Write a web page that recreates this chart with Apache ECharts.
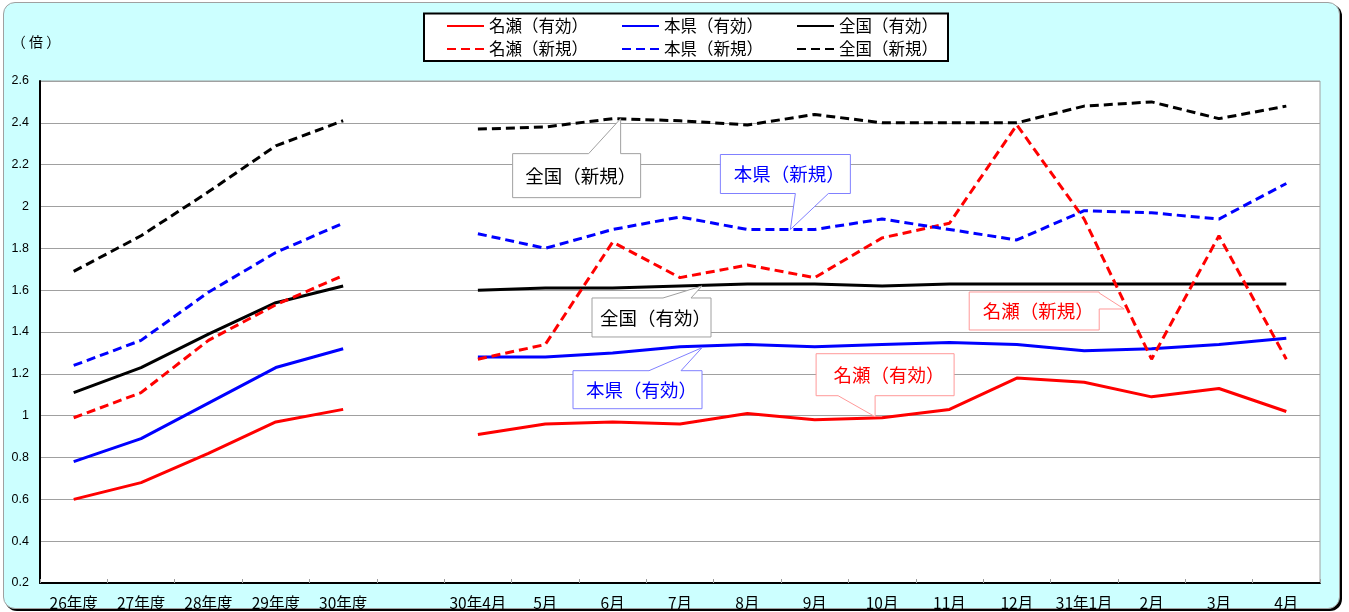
<!DOCTYPE html>
<html>
<head>
<meta charset="utf-8">
<script src="https://cdn.jsdelivr.net/npm/echarts@6/dist/echarts.min.js"></script>
<style>
html,body{margin:0;padding:0;width:1349px;height:612px;overflow:hidden;background:#fff;}
#frame{position:absolute;left:3px;top:2px;width:1335px;height:605px;background:#CCFFFF;border:1px solid #A0A0A0;border-radius:12px;box-shadow:2px 2px 0 #000;}
#chart{position:absolute;left:0;top:0;width:1349px;height:612px;}
</style>
</head>
<body>
<div id="frame"></div>
<div id="chart"></div>
<script>
// ---- data ----
var categories = ['26年度','27年度','28年度','29年度','30年度','','30年4月','5月','6月','7月','8月','9月','10月','11月','12月','31年1月','2月','3月','4月'];
var yTicks = [0.2,0.4,0.6,0.8,1,1.2,1.4,1.6,1.8,2,2.2,2.4,2.6];
var seriesNames = ['名瀬（有効）','本県（有効）','全国（有効）','名瀬（新規）','本県（新規）','全国（新規）'];
var nazeYuko      = [0.60,0.68,0.82,0.97,1.03,null,0.91,0.96,0.97,0.96,1.01,0.98,0.99,1.03,1.18,1.16,1.09,1.13,1.02];
var honkenYuko    = [0.78,0.89,1.06,1.23,1.32,null,1.28,1.28,1.30,1.33,1.34,1.33,1.34,1.35,1.34,1.31,1.32,1.34,1.37];
var zenkokuYuko   = [1.11,1.23,1.39,1.54,1.62,null,1.60,1.61,1.61,1.62,1.63,1.63,1.62,1.63,1.63,1.63,1.63,1.63,1.63];
var nazeShinki    = [0.99,1.11,1.36,1.53,1.67,null,1.27,1.34,1.83,1.66,1.72,1.66,1.85,1.92,2.39,1.94,1.27,1.86,1.27];
var honkenShinki  = [1.24,1.36,1.59,1.78,1.92,null,1.87,1.80,1.89,1.95,1.89,1.89,1.94,1.89,1.84,1.98,1.97,1.94,2.11];
var zenkokuShinki = [1.69,1.86,2.07,2.29,2.41,null,2.37,2.38,2.42,2.41,2.39,2.44,2.40,2.40,2.40,2.48,2.50,2.42,2.48];
var seriesValues = [nazeYuko, honkenYuko, zenkokuYuko, nazeShinki, honkenShinki, zenkokuShinki];
var seriesColors = ['#FF0000','#0000FF','#000000','#FF0000','#0000FF','#000000'];
var seriesDashed = [false,false,false,true,true,true];

// callout annotations: label, category, value at tip
var calloutLabels = ['全国（新規）','本県（新規）','全国（有効）','本県（有効）','名瀬（有効）','名瀬（新規）'];
var calloutCats   = ['6月','8月','7月','7月','10月','31年1月'];
var calloutVals   = [2.42, 1.89, 1.62, 1.325, 0.995, 1.51];
// ---- styling of callouts (pixel offsets relative to tip) ----
var calloutStyle = [
  {dx:8,  box:[-108,35,128,44], edge:'top',    base:[-32,0],  text:'#000', border:'#A0A0A0'},
  {dx:43, box:[-70,-75,130,39], edge:'bottom', base:[5,38],   text:'#0000FF', border:'#8080FF'},
  {dx:22, box:[-110,12,119,39], edge:'top',    base:[-39,-11],text:'#000', border:'#A0A0A0'},
  {dx:22, box:[-129,23,129,38], edge:'top',    base:[-53,-21],text:'#0000FF', border:'#8080FF'},
  {dx:-7, box:[-59,-63,138,42], edge:'bottom', base:[-37,0],  text:'#FF0000', border:'#FF9999'},
  {dx:40, box:[-155,-17,130,38],edge:'right',  base:[-16,0],  text:'#FF0000', border:'#FF9999'}
];

var FONT = '"Noto Sans CJK JP", "Noto Sans CJK SC", sans-serif';
var chart = echarts.init(document.getElementById('chart'));

var series = seriesNames.map(function(n, i){
  return {
    name: n, type: 'line', data: seriesValues[i], symbol: 'none', connectNulls: false,
    lineStyle: {color: seriesColors[i], width: 3, type: seriesDashed[i] ? [9,5] : 'solid'},
    itemStyle: {color: seriesColors[i]},
    emphasis: {disabled: true}, z: 3
  };
});

var legendCommon = {
  orient: 'horizontal', itemWidth: 37, itemHeight: 14, itemGap: 33, padding: 0,
  itemStyle: {opacity: 0, borderWidth: 0},
  textStyle: {fontSize: 16.5, fontFamily: FONT, color: '#000', lineHeight: 20},
  selectedMode: false
};

chart.setOption({
  backgroundColor: 'transparent',
  animation: false,
  grid: {left: 40, right: 29, top: 81, bottom: 29, show: true, backgroundColor: '#fff', borderColor: '#A0A0A0', borderWidth: 1},
  legend: [
    Object.assign({}, legendCommon, {left: 446, top: 16, data: seriesNames.slice(0,3)}),
    Object.assign({}, legendCommon, {left: 446, top: 39, data: seriesNames.slice(3,6)})
  ],
  xAxis: {
    type: 'category', data: categories, boundaryGap: true,
    axisLine: {lineStyle: {color: '#000', width: 2}},
    axisTick: {show: true, inside: true, length: 4, lineStyle: {color: '#A0A0A0'}},
    axisLabel: {interval: 0, fontSize: 15.5, fontFamily: FONT, color: '#000', margin: 11, lineHeight: 18}
  },
  yAxis: {
    type: 'value', min: yTicks[0], max: yTicks[yTicks.length-1], interval: 0.2,
    name: '（ 倍 ）', nameLocation: 'end', nameGap: 32,
    nameTextStyle: {fontSize: 14, fontFamily: FONT, color: '#000', padding: [0, 8, 0, 0]},
    axisLine: {show: true, lineStyle: {color: '#000', width: 2}},
    axisTick: {show: false},
    axisLabel: {fontSize: 12.5, fontFamily: 'Liberation Sans, Arial, sans-serif', color: '#000', margin: 11},
    splitLine: {lineStyle: {color: '#A0A0A0', width: 1}}
  },
  series: series
});

function buildGraphics(){
  var g = [{
    type: 'rect', id: 'legendBox', z: 0,
    shape: {x: 424, y: 13.5, width: 524, height: 47.5},
    style: {fill: '#fff', stroke: '#000', lineWidth: 2}, silent: true
  }];
  calloutLabels.forEach(function(lbl, i){
    var st = calloutStyle[i];
    var p = chart.convertToPixel({xAxisIndex: 0, yAxisIndex: 0}, [categories.indexOf(calloutCats[i]), calloutVals[i]]);
    var tx = p[0] + st.dx, ty = p[1];
    var x0 = tx + st.box[0], y0 = ty + st.box[1], x1 = x0 + st.box[2], y1 = y0 + st.box[3];
    var pts = [[x0,y0]];
    if (st.edge === 'top') { pts.push([tx+st.base[0], y0],[tx,ty],[tx+st.base[1], y0]); }
    pts.push([x1,y0]);
    if (st.edge === 'right') { pts.push([x1, ty+st.base[0]],[tx,ty],[x1, ty+st.base[1]]); }
    pts.push([x1,y1]);
    if (st.edge === 'bottom') { pts.push([tx+st.base[1], y1],[tx,ty],[tx+st.base[0], y1]); }
    pts.push([x0,y1]);
    g.push({
      type: 'polygon', id: 'co'+i, z: 100, silent: true,
      shape: {points: pts},
      style: {fill: '#fff', stroke: st.border, lineWidth: 1}
    });
    g.push({
      type: 'text', id: 'ct'+i, z: 101, silent: true,
      style: {text: lbl, x: (x0+x1)/2 + 4, y: (y0+y1)/2, align: 'center', verticalAlign: 'middle',
              fill: st.text, fontSize: 18.5, fontFamily: FONT}
    });
  });
  chart.setOption({graphic: g});
}
buildGraphics();
</script>
</body>
</html>
